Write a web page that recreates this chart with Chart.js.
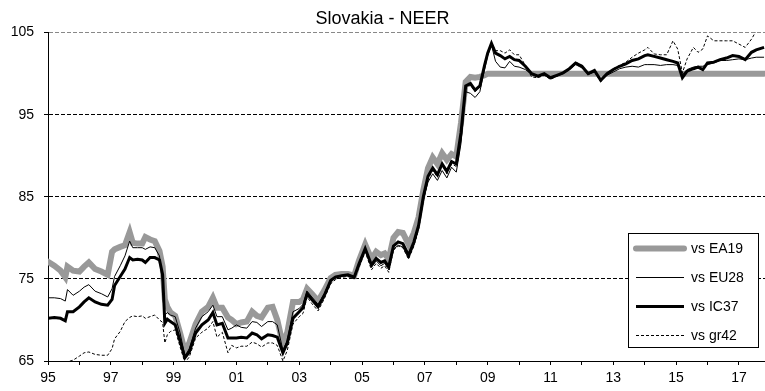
<!DOCTYPE html>
<html>
<head>
<meta charset="utf-8">
<script src="https://cdn.jsdelivr.net/npm/chart.js@4.4.1/dist/chart.umd.min.js"></script>
<style>
  html, body { margin: 0; padding: 0; background: #fff; }
  #wrap { width: 765px; height: 391px; position: relative; }
</style>
</head>
<body>
<div id="wrap"><canvas id="chart"></canvas></div>
<script>
// monthly-ish observations, decimal years
const dates = [
  1995.0, 1995.2, 1995.4, 1995.55, 1995.62, 1995.8, 1996.0, 1996.15, 1996.3, 1996.5, 1996.7, 1996.9,
  1997.04, 1997.12, 1997.3, 1997.45, 1997.6, 1997.7, 1997.85, 1998.0, 1998.1, 1998.25, 1998.4, 1998.55,
  1998.65, 1998.72, 1998.8, 1998.9,
  1999.05, 1999.2, 1999.36, 1999.5, 1999.7, 1999.9, 2000.1, 2000.25, 2000.38, 2000.55, 2000.73, 2000.85,
  2001.0, 2001.15, 2001.33, 2001.5, 2001.65, 2001.8, 2002.0, 2002.15, 2002.3, 2002.48, 2002.62, 2002.8,
  2003.0, 2003.12, 2003.25, 2003.4, 2003.6, 2003.8, 2004.0, 2004.15, 2004.35, 2004.55, 2004.75, 2004.9,
  2005.1, 2005.3, 2005.45, 2005.6, 2005.72, 2005.85, 2006.0, 2006.15, 2006.3, 2006.48, 2006.65, 2006.8, 2006.95,
  2007.1, 2007.25, 2007.4, 2007.55, 2007.7, 2007.85, 2008.0, 2008.15, 2008.3, 2008.45, 2008.6, 2008.75,
  2008.9, 2009.0, 2009.12, 2009.25, 2009.4, 2009.55, 2009.7, 2009.85,
  2010.0, 2010.2, 2010.4, 2010.6, 2010.8, 2011.0, 2011.2, 2011.4, 2011.6, 2011.8, 2012.0, 2012.2,
  2012.4, 2012.6, 2012.8, 2013.0, 2013.2, 2013.4, 2013.6, 2013.8,
  2014.0, 2014.1, 2014.3, 2014.5, 2014.7, 2014.9, 2015.05, 2015.2, 2015.35, 2015.55, 2015.7, 2015.85,
  2016.0, 2016.2, 2016.4, 2016.6, 2016.8, 2017.0, 2017.2, 2017.4, 2017.55, 2017.8
];

const vsEA19 = [
  77.1, 76.6, 76.0, 75.2, 76.5, 76.0, 75.9, 76.5, 77.0, 76.2, 75.9, 75.5,
  78.3, 78.6, 78.9, 79.1, 80.7, 79.4, 79.3, 79.3, 80.1, 79.8, 79.6, 78.4,
  76.5, 72.5, 71.6, 70.9,
  70.5, 68.5, 66.2, 67.2, 69.5, 71.0, 71.6, 72.7, 71.5, 71.5, 70.3, 70.0,
  69.5, 69.7, 69.8, 71.0, 70.5, 70.3, 71.5, 71.6, 70.0, 67.0, 68.5, 72.2,
  72.2, 72.5, 73.8, 73.2, 72.3, 73.6, 75.1, 75.5, 75.6, 75.6, 75.4, 77.2,
  79.2, 77.4, 78.3, 77.9, 78.1, 77.4, 80.0, 80.7, 80.6, 79.2, 80.6, 82.5, 85.8,
  88.5, 89.8, 89.0, 90.3, 89.5, 90.2, 89.9, 94.0, 99.0, 99.6, 99.5, 99.6,
  99.8, 100, 100, 100, 100, 100, 100, 100,
  100, 100, 100, 100, 100, 100, 100, 100, 100, 100, 100, 100,
  100, 100, 100, 100, 100, 100, 100, 100,
  100, 100, 100, 100, 100, 100, 100, 100, 100, 100, 100, 100,
  100, 100, 100, 100, 100, 100, 100, 100, 100, 100
];

const vsEU28 = [
  72.7, 72.7, 72.6, 72.3, 73.7, 73.0, 73.5, 74.0, 74.3, 73.5, 73.2, 72.8,
  73.8, 75.3, 76.6, 77.8, 79.6, 78.8, 78.8, 78.8, 78.6, 78.9, 78.8, 77.8,
  74.5, 70.6, 70.9, 70.6,
  70.4, 68.5, 65.6, 66.5, 69.0, 70.4, 71.0, 71.8, 70.4, 70.4, 68.8, 69.0,
  69.4, 69.1, 69.0, 69.8, 69.7, 69.2, 69.8, 69.8, 69.4, 66.3, 67.5, 71.0,
  71.4, 71.9, 73.5, 72.8, 71.9, 73.2, 74.9, 75.3, 75.4, 75.5, 75.2, 76.6,
  78.5, 76.4, 77.2, 76.6, 76.9, 76.1, 78.6, 79.1, 78.9, 77.5, 79.1, 81.1, 84.6,
  86.8, 87.8, 87.0, 88.2, 87.3, 88.6, 88.0, 91.5, 97.8, 97.6, 97.1, 97.8,
  100.5, 102.2, 103.5, 101.5, 100.8, 100.7, 101.5, 100.9,
  100.8, 100.5, 99.9, 99.6, 99.9, 99.4, 99.7, 100.0, 100.5, 101.1, 100.7, 99.9,
  100.2, 99.1, 99.8, 100.2, 100.6, 100.8, 100.9, 100.8,
  101.1, 101.1, 101.1, 101.0, 101.1, 101.1, 101.0, 99.9, 100.5, 100.8, 100.9, 100.9,
  101.1, 101.3, 101.6, 101.6, 101.7, 101.8, 101.7, 101.9, 102.0, 102.0
];

const vsIC37 = [
  70.2, 70.3, 70.2, 69.9, 71.0, 71.0, 71.6, 72.2, 72.7, 72.2, 71.9, 71.8,
  72.5, 74.2, 75.3, 76.2, 77.6, 77.3, 77.4, 77.3, 77.0, 77.6, 77.6, 77.3,
  75.5, 69.6, 70.1, 69.8,
  69.4, 67.5, 65.4, 66.1, 68.4, 69.4, 70.0, 70.9, 69.4, 69.6, 67.8, 67.8,
  67.8, 67.9, 67.8, 68.4, 68.2, 67.7, 68.2, 68.1, 67.9, 66.0, 67.2, 70.2,
  71.0, 71.5, 73.2, 72.5, 71.6, 73.0, 74.8, 75.2, 75.4, 75.5, 75.2, 76.8,
  78.7, 76.7, 77.5, 77.0, 77.2, 76.5, 79.0, 79.5, 79.3, 77.9, 79.5, 81.5, 85.0,
  87.5, 88.5, 87.7, 89.0, 88.1, 89.3, 89.0, 92.8, 98.5, 98.8, 98.0, 98.5,
  101.0, 102.5, 103.7, 102.5, 102.2, 101.8, 102.1, 101.7,
  101.6, 100.9, 100.0, 99.7, 100.0, 99.5, 99.8, 100.1, 100.6, 101.3, 100.9, 100.0,
  100.4, 99.2, 100.0, 100.5, 100.9, 101.2, 101.6, 101.8,
  102.2, 102.3, 102.1, 101.9, 101.7, 101.5, 101.3, 99.5, 100.3, 100.6, 100.8, 100.5,
  101.3, 101.4, 101.7, 101.9, 102.2, 102.1, 101.7, 102.6, 102.9, 103.2
];

const vsGr42 = [
  63.6, 63.8, 64.2, 64.6, 64.9, 65.1, 65.6, 66.0, 66.1, 65.8, 65.7, 65.7,
  66.5, 67.7, 68.6, 69.8, 70.3, 70.5, 70.4, 70.5, 70.2, 70.4, 70.6, 70.0,
  69.7, 67.2, 68.2, 68.6,
  68.8, 66.8, 64.8, 65.5, 67.8, 68.5, 69.0, 69.8, 67.9, 68.5, 66.0, 66.9,
  66.6, 66.8, 66.8, 67.3, 67.1, 66.7, 67.2, 67.2, 66.9, 65.0, 66.3, 69.5,
  70.4, 70.8, 72.8, 72.0, 71.1, 72.6, 74.4, 74.9, 75.2, 75.3, 75.0, 76.4,
  78.3, 76.1, 76.9, 76.3, 76.6, 75.8, 78.5, 79.0, 78.8, 77.4, 79.0, 81.0, 84.5,
  87.2, 88.2, 87.4, 88.8, 87.8, 89.0, 88.7, 92.5, 98.2, 98.6, 97.8, 98.4,
  101.0, 102.6, 103.7, 102.8, 102.8, 102.5, 102.9, 102.3,
  102.3, 101.0, 99.6, 99.5, 99.8, 99.3, 99.7, 100.1, 100.7, 101.4, 101.0, 99.9,
  100.3, 99.0, 100.0, 100.6, 101.0, 101.4, 102.0, 102.5,
  102.9, 103.2, 102.4, 102.3, 102.3, 104.0, 103.0, 100.1, 101.8, 103.2, 102.6, 103.0,
  104.6, 104.0, 104.0, 104.0, 104.0, 103.6, 103.2, 104.2, 105.2, 105.4
];

const seriesNames = ['vs EA19', 'vs EU28', 'vs IC37', 'vs gr42'];
const yTicks = [65, 75, 85, 95, 105];

function points(values) {
  return values.map((v, i) => ({ x: dates[i], y: v }));
}

Chart.defaults.font.family = '"Liberation Sans", Arial, sans-serif';
Chart.defaults.color = '#000';

// framed legend sitting inside the plot, lower right
const boxLegend = {
  id: 'boxLegend',
  afterDraw(chart) {
    const ctx = chart.ctx;
    const area = chart.chartArea;
    const w = 130, h = 114;
    const x = Math.round(area.right - w - 7), y = Math.round(area.top + 200);
    ctx.save();
    ctx.fillStyle = '#fff';
    ctx.fillRect(x, y, w, h);
    ctx.strokeStyle = '#000';
    ctx.lineWidth = 1;
    ctx.strokeRect(x + 0.5, y + 0.5, w, h);
    ctx.font = '14px "Liberation Sans", Arial, sans-serif';
    ctx.textBaseline = 'middle';
    ctx.fillStyle = '#000';
    chart.data.datasets.forEach((ds, i) => {
      const ly = y + 15 + i * 29;
      ctx.save();
      ctx.strokeStyle = ds.borderColor;
      ctx.lineWidth = ds.borderWidth;
      ctx.lineCap = ds.borderCapStyle || 'butt';
      ctx.setLineDash(ds.borderDash || []);
      ctx.beginPath();
      ctx.moveTo(x + 8, ly + 0.5);
      ctx.lineTo(x + 56, ly + 0.5);
      ctx.stroke();
      ctx.restore();
      ctx.fillText(ds.label, x + 63, ly + 1);
    });
    ctx.restore();
  }
};

new Chart(document.getElementById('chart'), {
  type: 'line',
  data: {
    datasets: [{
      label: seriesNames[0],
      data: points(vsEA19),
      borderColor: '#999999',
      borderWidth: 6,
      borderCapStyle: 'round',
      order: 4
    }, {
      label: seriesNames[1],
      data: points(vsEU28),
      borderColor: '#000',
      borderWidth: 1,
      order: 3
    }, {
      label: seriesNames[2],
      data: points(vsIC37),
      borderColor: '#000',
      borderWidth: 3,
      order: 2
    }, {
      label: seriesNames[3],
      data: points(vsGr42),
      borderColor: '#000',
      borderWidth: 1,
      borderDash: [3, 2],
      order: 1
    }]
  },
  options: {
    responsive: true,
    maintainAspectRatio: false,
    animation: false,
    elements: {
      point: { radius: 0 },
      line: { tension: 0, fill: false }
    },
    layout: { padding: { left: 0, right: 0, top: 0, bottom: 0 } },
    plugins: {
      legend: { display: false },
      tooltip: { enabled: false },
      title: {
        display: true,
        text: 'Slovakia - NEER',
        color: '#000',
        font: { size: 18, weight: 'normal' },
        padding: { top: 8, bottom: 3 }
      }
    },
    scales: {
      x: {
        type: 'linear',
        min: 1995,
        max: 2017.83,
        afterFit: (scale) => { scale.height = 30; },
        border: { color: '#000', width: 1 },
        grid: { drawOnChartArea: false, drawTicks: true, tickLength: 4, color: '#000' },
        ticks: {
          stepSize: 1,
          includeBounds: false,
          autoSkip: false,
          maxRotation: 0,
          padding: 5,
          font: { size: 14 },
          callback: (v) => (Number.isInteger(v) && v % 2 === 1) ? String(v % 100).padStart(2, '0') : ''
        }
      },
      y: {
        min: yTicks[0],
        max: yTicks[yTicks.length - 1],
        afterFit: (scale) => { scale.width = 48; },
        border: { color: '#000', width: 1, dash: [4, 2] },
        grid: {
          drawTicks: true,
          tickLength: 4,
          tickColor: '#000',
          color: (c) => c.tick.value === yTicks[0] ? 'rgba(0,0,0,0)' : (c.tick.value === yTicks[yTicks.length - 1] ? '#888' : '#000')
        },
        ticks: {
          stepSize: 10,
          padding: 10,
          font: { size: 14 }
        }
      }
    }
  },
  plugins: [boxLegend]
});
</script>
</body>
</html>
